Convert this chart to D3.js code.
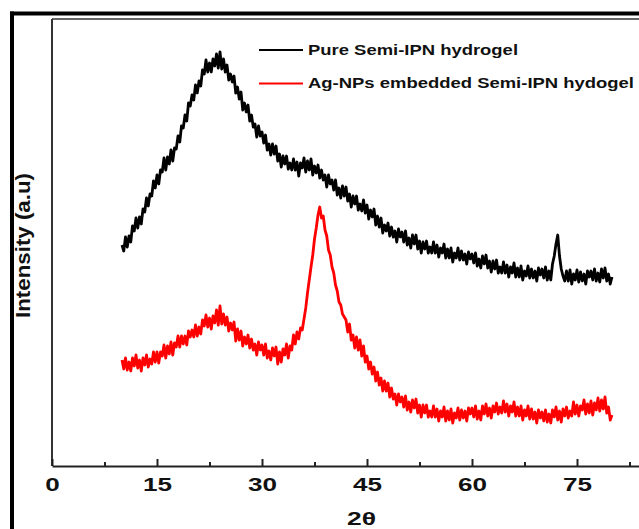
<!DOCTYPE html>
<html>
<head>
<meta charset="utf-8">
<script src="https://cdn.jsdelivr.net/npm/d3@7"></script>
<style>
  html, body { margin: 0; padding: 0; background: #ffffff; }
  svg { display: block; }
  text { font-family: "Liberation Sans", Arial, sans-serif; }
</style>
</head>
<body>
<svg id="chart" width="639" height="529"></svg>
<script>
// ---- DATA ----
const twoThetaStart = 10;      // first 2θ sample
const twoThetaStep = 0.25;     // sampling step of the scan

// Pure Semi-IPN hydrogel (a.u.), 2θ = 10 … 80 step 0.25
const pureSemiIPN = [
  221,215,229,219,230,224,240,235,
  248,238,249,242,257,254,268,260,
  272,270,285,278,291,282,296,294,
  308,296,309,302,316,305,318,317,
  330,324,340,338,351,345,363,360,
  371,366,381,373,385,380,396,392,
  406,394,403,394,407,400,412,398,
  414,397,407,394,401,386,392,384,
  390,373,379,367,374,356,363,354,
  361,345,351,339,342,329,340,330,
  334,323,331,316,322,311,322,312,
  320,305,312,299,310,302,310,297,
  303,296,307,296,304,290,303,298,
  308,294,305,296,307,291,300,293,
  301,288,296,286,291,279,291,282,
  286,276,286,271,278,268,280,270,
  279,265,272,259,270,262,270,256,
  262,255,266,253,261,247,256,249,
  257,241,250,239,248,233,241,235,
  243,230,239,229,235,224,237,229,
  234,224,235,221,228,218,231,222,
  231,217,225,213,224,217,225,213,
  219,213,224,213,221,209,218,213,
  222,208,217,208,218,204,213,208,
  218,206,215,206,212,202,214,207,
  212,203,213,200,207,198,210,202,
  211,198,205,194,205,197,206,193,
  199,193,204,193,201,189,199,193,
  203,189,198,189,200,186,195,190,
  200,188,197,188,195,185,198,191,
  197,188,199,186,195,186,202,210,
  222,231,210,197,190,185,195,185,
  196,182,192,186,196,184,194,185,
  192,182,195,189,195,186,197,185,
  193,184,197,188,198,185,192,182,
  189
];

// Ag-NPs embedded Semi-IPN hydogel (a.u.), 2θ = 10 … 80 step 0.25
const agNPsSemiIPN = [
  106,97,108,96,104,95,108,100,
  111,98,106,95,108,101,111,99,
  107,102,114,104,114,103,114,110,
  121,108,120,112,124,111,123,119,
  130,119,130,122,130,121,135,129,
  136,129,141,130,139,132,146,140,
  151,139,148,137,150,143,156,141,
  160,142,152,141,149,135,143,136,
  144,125,137,126,135,120,129,122,
  131,118,127,116,122,111,124,116,
  121,111,122,108,115,106,118,110,
  119,102,114,104,117,111,122,108,
  120,116,131,122,134,127,138,136,
  147,158,173,186,199,211,227,238,
  251,259,248,250,236,230,216,211,
  199,193,181,175,164,161,152,149,
  146,134,142,126,131,118,129,116,
  126,110,120,104,110,97,104,92,
  99,85,94,81,88,75,85,75,
  83,69,78,67,72,61,72,64,
  69,59,70,56,64,54,66,58,
  67,53,61,49,61,53,61,49,
  55,49,60,49,57,45,55,49,
  59,45,55,46,57,43,53,48,
  58,46,56,48,55,45,58,52,
  58,49,60,47,55,46,60,52,
  62,50,58,48,60,54,63,52,
  59,53,65,54,62,50,60,54,
  64,50,59,50,60,46,56,50,
  60,47,57,47,54,43,56,48,
  54,45,56,44,52,43,56,49,
  59,46,55,44,57,50,59,48,
  55,50,64,52,61,50,60,56,
  66,52,62,53,65,51,63,56,
  68,55,66,57,69,53,59,46,
  51
];

const xTickValues = [0, 15, 30, 45, 60, 75];
const xMinorTickValues = [7.5, 22.5, 37.5, 52.5, 67.5, 82.5];
const seriesNames = ["Pure Semi-IPN hydrogel", "Ag-NPs embedded Semi-IPN hydogel"];
const seriesColors = ["#000000", "#ff0000"];
const xTitle = "2θ";
const yTitle = "Intensity (a.u)";

// ---- CHART ----
(function () {
const svg = d3.select("#chart");
const plotL = 52, plotR = 682, plotT = 19, plotB = 466;

const x = d3.scaleLinear().domain([0, 90]).range([plotL, plotR]);
const y = d3.scaleLinear().domain([0, 447]).range([plotB, plotT]);

const series = [pureSemiIPN, agNPsSemiIPN].map(vals =>
  vals.map((v, i) => ({ t: twoThetaStart + i * twoThetaStep, v }))
);

// outer thick border (top + left)
svg.append("line").attr("x1", 10).attr("x2", 639).attr("y1", 13.5).attr("y2", 13.5)
  .attr("stroke", "#000").attr("stroke-width", 4);
svg.append("line").attr("x1", 12).attr("x2", 12).attr("y1", 11.5).attr("y2", 529)
  .attr("stroke", "#000").attr("stroke-width", 4);

// inner frame top + left
svg.append("line").attr("x1", plotL).attr("x2", 639).attr("y1", plotT).attr("y2", plotT)
  .attr("stroke", "#333").attr("stroke-width", 1.6);
svg.append("line").attr("x1", plotL).attr("x2", plotL).attr("y1", plotT).attr("y2", plotB)
  .attr("stroke", "#333").attr("stroke-width", 2);

// x axis
const xAxis = d3.axisBottom(x).tickValues(xTickValues).tickSizeInner(-7).tickSizeOuter(0).tickFormat(d3.format("d"));
const gx = svg.append("g").attr("transform", `translate(0,${plotB})`).call(xAxis);
gx.select(".domain").attr("stroke", "#222").attr("stroke-width", 2);
gx.selectAll(".tick line").attr("stroke", "#222").attr("stroke-width", 2);
gx.selectAll(".tick text")
  .attr("y", 25).attr("dy", 0)
  .attr("fill", "#111")
  .style("font-size", "19px").style("font-weight", "bold")
  .attr("textLength", d => String(d).length * 14.5)
  .attr("lengthAdjust", "spacingAndGlyphs");

const xMinor = d3.axisBottom(x).tickValues(xMinorTickValues).tickSizeInner(-4).tickSizeOuter(0).tickFormat("");
const gxm = svg.append("g").attr("transform", `translate(0,${plotB})`).call(xMinor);
gxm.select(".domain").remove();
gxm.selectAll(".tick line").attr("stroke", "#222").attr("stroke-width", 2);

// data lines
const line = d3.line().x(d => x(d.t)).y(d => y(d.v));
series.forEach((s, i) => {
  svg.append("path").datum(s)
    .attr("fill", "none")
    .attr("stroke", seriesColors[i])
    .attr("stroke-width", 2.8)
    .attr("stroke-linejoin", "round")
    .attr("d", line);
});

// legend
const legendY = [50, 83.5];
const legendW = [210, 326];
seriesNames.forEach((name, i) => {
  svg.append("line").attr("x1", 259).attr("x2", 303).attr("y1", legendY[i]).attr("y2", legendY[i])
    .attr("stroke", seriesColors[i]).attr("stroke-width", 2);
  svg.append("text").attr("x", 308).attr("y", legendY[i] + 4.5)
    .attr("fill", "#111")
    .style("font-size", "14px").style("font-weight", "bold")
    .attr("textLength", legendW[i]).attr("lengthAdjust", "spacingAndGlyphs")
    .text(name);
});

// axis titles
svg.append("text").attr("x", 347).attr("y", 525)
  .attr("fill", "#111")
  .style("font-size", "19px").style("font-weight", "bold")
  .attr("textLength", 29).attr("lengthAdjust", "spacingAndGlyphs")
  .text(xTitle);

svg.append("text")
  .attr("transform", "translate(30,318) rotate(-90)")
  .attr("fill", "#111")
  .style("font-size", "20px").style("font-weight", "bold")
  .attr("textLength", 145).attr("lengthAdjust", "spacingAndGlyphs")
  .text(yTitle);
})();
</script>
</body>
</html>
